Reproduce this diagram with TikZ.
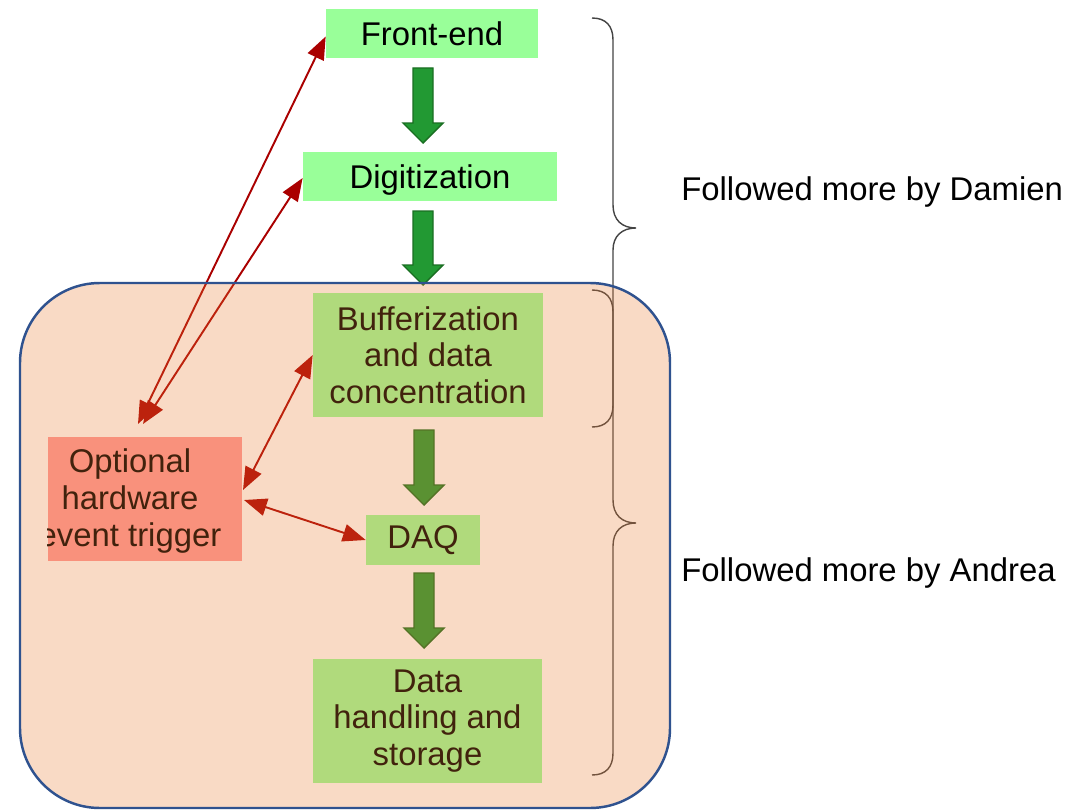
\documentclass[tikz,border=0pt]{standalone}
\usepackage{fontspec}
\setmainfont{Liberation Sans}
\usetikzlibrary{arrows.meta,calc}
\definecolor{topgreen}{HTML}{99FF99}
\definecolor{trigred}{HTML}{FF9999}
\definecolor{arrgreen}{HTML}{229933}
\definecolor{arredge}{HTML}{1A6E22}
\definecolor{darkred}{HTML}{AA0000}
\definecolor{orangeov}{HTML}{ED7D31}
\definecolor{framecol}{HTML}{2F528F}
\definecolor{bracegray}{HTML}{444444}
\begin{document}
\begin{tikzpicture}[x=0.02cm,y=-0.02cm,
  box/.style={fill=topgreen,draw=none,inner sep=0pt,align=center,
    font=\fontsize{18.7}{20.8}\selectfont},
  blockarrow/.style={fill=arrgreen,draw=arredge,line width=0.8pt,line join=miter},
  redarrow/.style={draw=darkred,line width=1.1pt,
    {Triangle[length=13pt,width=10pt]}-{Triangle[length=13pt,width=10pt]}},
  bracestyle/.style={draw=bracegray,line width=0.8pt},
  lab/.style={anchor=west,inner sep=0pt,font=\fontsize{18.7}{20.8}\selectfont}]
\useasboundingbox (0,0) rectangle (1088,811);
\fill[white] (0,0) rectangle (1088,811);
% boxes
\node[box,minimum width=4.24cm,minimum height=0.98cm] (fe) at (432,33.5) {Front-end};
\node[box,minimum width=5.08cm,minimum height=0.98cm,text depth=0pt] (dig) at (430,176.5) {Digitization};
\node[box,minimum width=4.6cm,minimum height=2.48cm] (buf) at (428,355) {Bufferization\\and data\\concentration};
\node[box,fill=trigred,minimum width=3.88cm,minimum height=2.48cm] (trig) at (145,499) {};
\begin{scope}
  \clip (trig.south west) rectangle (trig.north east);
  \node[box,fill=none] (trigtext) at (130,501) {Optional\\hardware\\event trigger};
\end{scope}
\node[box,minimum width=2.28cm,minimum height=1.0cm] (daq) at (423,540) {DAQ};
\node[box,minimum width=4.58cm,minimum height=2.48cm] (dat) at (427.5,721) {Data\\handling and\\storage};
% block arrows
\newcommand{\blkarrow}[3]{%
  \draw[blockarrow] ({#1-10},#2) -- ({#1+10},#2) -- ({#1+10},{#3-20}) -- ({#1+20},{#3-20})
    -- (#1,#3) -- ({#1-20},{#3-20}) -- ({#1-10},{#3-20}) -- cycle;}
\blkarrow{423}{68}{143}
\blkarrow{423}{211}{285}
\blkarrow{424}{430}{505}
\blkarrow{424}{573}{648}
% braces
\draw[bracestyle] (592,18) .. controls (606,18) and (613,26) .. (613,40) -- (613,205)
  .. controls (613,220) and (622,228) .. (636,228)
  .. controls (622,228) and (613,236) .. (613,250) -- (613,405)
  .. controls (613,419) and (606,427) .. (592,427);
\draw[bracestyle] (592,290) .. controls (606,290) and (613,298) .. (613,312) -- (613,500)
  .. controls (613,515) and (622,523) .. (636,523)
  .. controls (622,523) and (613,531) .. (613,546) -- (613,753)
  .. controls (613,767) and (606,775) .. (592,775);
% red arrows
\coordinate (ta) at (138,424);
\coordinate (tb) at (143,424);
\coordinate (tc) at (243,490);
\coordinate (td) at (244,500);
\draw[redarrow] (ta) -- ([yshift=-0.06cm]fe.west);
\draw[redarrow] (tb) -- ([yshift=-0.03cm]dig.west);
\draw[redarrow] (tc) -- (buf.west);
\draw[redarrow] (td) -- (daq.west);
% translucent group
\fill[orangeov,fill opacity=0.28,rounded corners=1.6cm] (20,283) rectangle (670,808);
\draw[framecol,line width=1.4pt,rounded corners=1.6cm] (20,283) rectangle (670,808);
% labels
\node[lab] (l1) at (681,192) {Followed more by Damien};
\node[lab] (l2) at (681,573) {Followed more by Andrea};
\end{tikzpicture}
\end{document}
